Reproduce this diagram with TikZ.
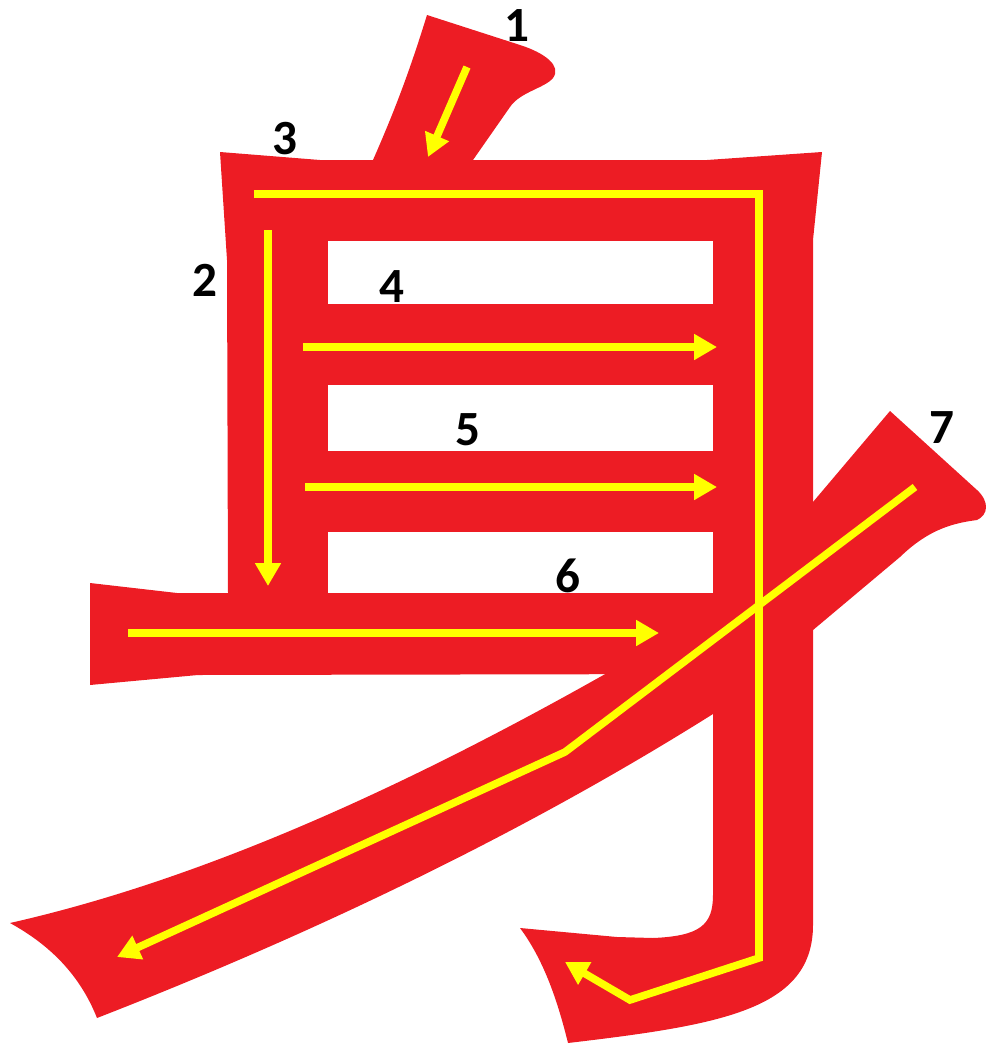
\documentclass[tikz,border=0pt]{standalone}
\usepackage{fontspec}
\setmainfont{Carlito}
\usetikzlibrary{arrows.meta}
\definecolor{cRed}{RGB}{237,28,36}
\definecolor{cYellow}{RGB}{255,255,0}
\tikzset{
	glyph/.style={fill=cRed, draw=none},
	hole/.style={fill=white, draw=none},
	guide/.style={draw=cYellow, line width=4.3pt},
	guidearr/.style={guide, -{Triangle[length=13pt,width=14pt]}},
	numlbl/.style={font=\fontsize{28}{30}\selectfont\bfseries, text=black,
		inner sep=0pt},
}

\begin{document}
\begin{tikzpicture}[x=0.02cm, y=-0.02cm]
	\useasboundingbox (0,0) rectangle (986,1045);
	% red glyph
	\fill[glyph] (427,15) -- (520,45) .. controls (545,53) and (562,66) .. (553,78)
		.. controls (545,88) and (520,92) .. (510,107) -- (473,160) -- (373,160)
		.. controls (395,110) and (410,70) .. cycle;
	\fill[glyph] (220,152) -- (320,160) -- (707,160) -- (822,152) -- (813,240)
		-- (813,925) .. controls (813,1010) and (720,1025) .. (568,1043)
		.. controls (555,990) and (540,955) .. (520,928) -- (617,937) -- (653,938)
		.. controls (700,936) and (713,925) .. (713,895) -- (713,674) -- (198,675)
		-- (90,685) -- (90,583) -- (177,593) -- (228,593) -- (227,260) -- cycle;
	\fill[glyph] (790,520) -- (813,502) -- (890,411) -- (977,490)
		.. controls (990,502) and (988,515) .. (977,520)
		.. controls (955,523) and (930,528) .. (900,557) -- (713,714)
		.. controls (600,785) and (400,900) .. (97,1018)
		.. controls (80,975) and (50,945) .. (10,923)
		.. controls (200,880) and (400,790) .. (607,673) -- (720,600) -- cycle;
	\fill[hole] (328,241) rectangle (713,304);
	\fill[hole] (328,385) rectangle (713,451);
	\fill[hole] (328,532) rectangle (713,593);
	% stroke order
	\draw[guidearr] (467,67) -- (428,157);
	\draw[guidearr] (268,230) -- (268,586);
	\draw[guidearr] (254,194) -- (759,194) -- (759,958) -- (630,1000) -- (565,962);
	\draw[guidearr] (303,347) -- (717,347);
	\draw[guidearr] (305,487) -- (717,487);
	\draw[guidearr] (128,633) -- (659,633);
	\draw[guidearr] (915,487) -- (565,752) -- (117,957);
	\node[numlbl] (n1) at (517,26) {1};
	\node[numlbl] (n2) at (205,280) {2};
	\node[numlbl] (n3) at (285,139) {3};
	\node[numlbl] (n4) at (392,287) {4};
	\node[numlbl] (n5) at (468,430) {5};
	\node[numlbl] (n6) at (568,576) {6};
	\node[numlbl] (n7) at (942,428) {7};
\end{tikzpicture}
\end{document}
